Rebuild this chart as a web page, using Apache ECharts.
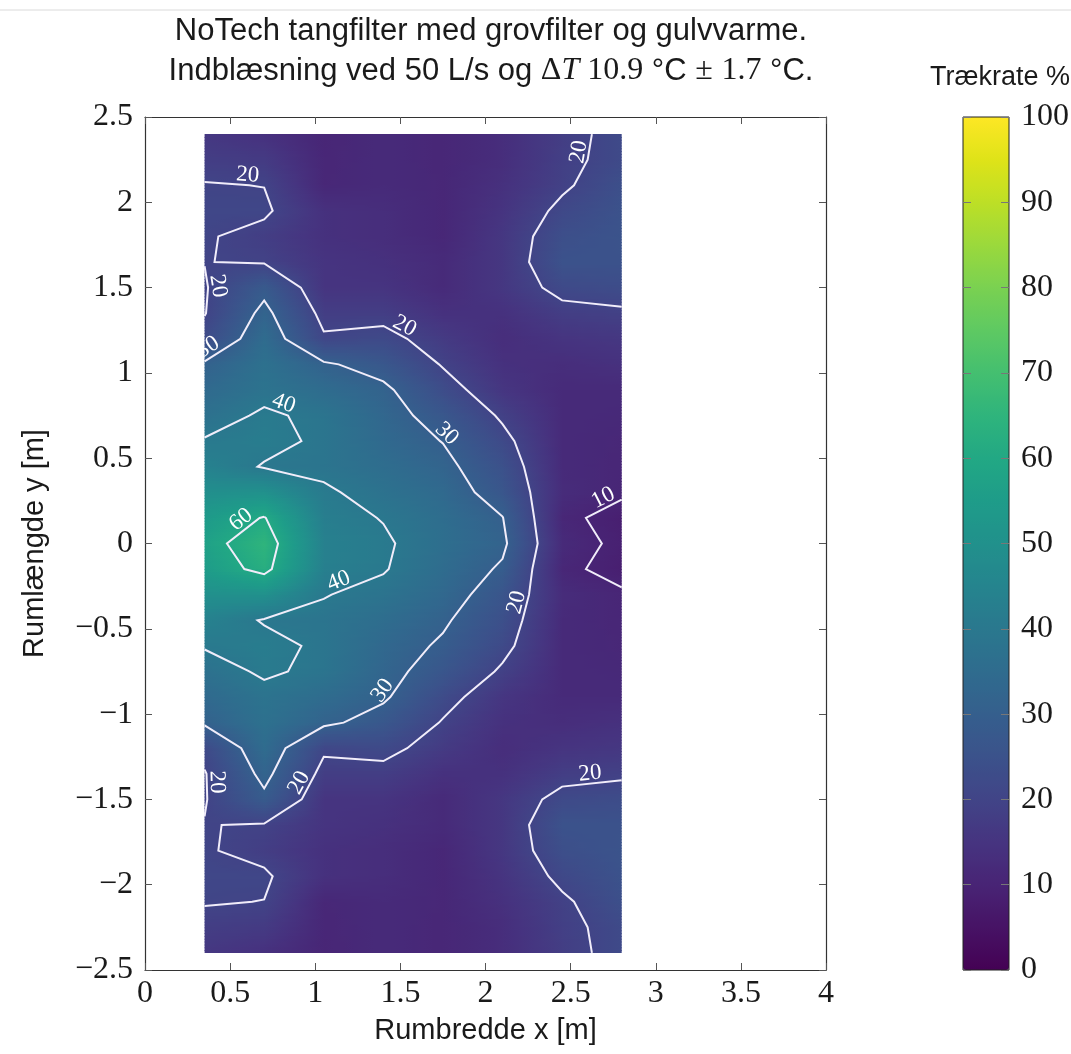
<!DOCTYPE html>
<html>
<head>
<meta charset="utf-8">
<title>NoTech tangfilter - trækrate</title>
<script src="https://cdn.jsdelivr.net/npm/echarts@6/dist/echarts.min.js"></script>
<style>
  html, body { margin: 0; padding: 0; background: #fff; }
  #chart { width: 1071px; height: 1054px; }
</style>
</head>
<body>
<div id="chart"></div>
<script>
/* -------------------------------------------------------------------------- */
/*                 Trækrate (draught rate) i rummet, NoTech                    */
/* -------------------------------------------------------------------------- */

// measurement grid, x across the room, y along it (top row first)
const xPositions = [0.35, 0.7, 1.05, 1.4, 1.75, 2.1, 2.45, 2.8];
const yPositions = [
  2.4, 2.25, 2.1, 1.95, 1.8, 1.65, 1.5, 1.35, 1.2, 1.05, 0.9, 0.75, 0.6, 0.45,
  0.3, 0.15, 0, -0.15, -0.3, -0.45, -0.6, -0.75, -0.9, -1.05, -1.2, -1.35,
  -1.5, -1.65, -1.8, -1.95, -2.1, -2.25, -2.4
];

// draught rate in %, one row per y position
const draughtRate = [
  [16.0, 14.0, 10.5, 12.0, 10.8, 13.0, 18.0, 22.0],
  [18.0, 17.0, 10.8, 12.0, 10.8, 13.0, 18.5, 22.0],
  [20.3, 19.9, 11.0, 12.0, 11.0, 14.0, 19.0, 24.0],
  [21.0, 21.0, 14.0, 13.0, 11.0, 15.0, 21.5, 25.0],
  [20.6, 18.0, 14.0, 13.0, 11.0, 16.0, 23.8, 25.5],
  [20.1, 19.5, 15.0, 14.0, 12.0, 16.0, 25.0, 25.0],
  [19.5, 28.0, 15.0, 15.0, 12.0, 16.0, 22.0, 23.0],
  [19.7, 32.0, 18.0, 18.0, 14.0, 14.0, 18.0, 19.0],
  [22.5, 35.0, 20.8, 22.0, 17.0, 13.0, 15.0, 16.0],
  [31.0, 37.0, 31.0, 27.0, 19.5, 14.0, 13.0, 14.0],
  [34.0, 38.0, 35.0, 31.5, 23.0, 15.5, 12.0, 12.0],
  [37.0, 41.0, 38.5, 33.0, 27.0, 19.0, 12.0, 11.5],
  [40.5, 42.0, 38.8, 34.0, 29.8, 22.0, 12.0, 11.0],
  [44.0, 39.5, 38.5, 35.5, 32.0, 24.5, 12.0, 10.8],
  [49.0, 50.0, 41.0, 37.5, 34.0, 26.5, 12.5, 10.6],
  [54.0, 60.5, 42.5, 39.7, 35.5, 30.2, 11.0, 8.5],
  [57.0, 65.0, 43.5, 41.0, 36.0, 31.5, 12.0, 9.0],
  [55.0, 62.5, 43.0, 40.5, 35.0, 29.0, 11.0, 8.5],
  [49.5, 50.0, 40.3, 38.0, 33.5, 26.0, 12.5, 10.6],
  [44.0, 39.5, 38.5, 35.5, 31.0, 24.0, 12.0, 10.8],
  [40.5, 42.0, 38.8, 33.5, 29.0, 22.0, 12.0, 11.0],
  [37.0, 41.0, 38.5, 32.5, 26.5, 19.0, 12.0, 11.5],
  [34.0, 38.0, 35.0, 31.0, 22.5, 15.5, 12.0, 12.0],
  [31.0, 37.0, 31.5, 27.0, 19.5, 14.0, 13.0, 14.0],
  [22.0, 35.0, 21.0, 22.0, 17.0, 13.0, 15.0, 16.0],
  [19.6, 32.0, 18.0, 18.0, 14.0, 14.0, 18.0, 19.0],
  [19.6, 28.5, 15.0, 15.0, 12.0, 16.0, 22.0, 23.0],
  [20.2, 19.5, 15.0, 14.0, 12.0, 16.0, 25.0, 25.0],
  [20.6, 18.0, 14.0, 13.0, 11.0, 16.0, 23.8, 25.5],
  [21.0, 21.0, 14.0, 13.0, 11.0, 15.0, 21.5, 25.0],
  [20.4, 19.9, 11.0, 12.0, 11.0, 14.0, 19.0, 24.0],
  [18.0, 17.0, 10.8, 12.0, 10.8, 13.0, 18.5, 22.0],
  [16.0, 14.0, 10.5, 12.0, 10.8, 13.0, 18.0, 22.0]
];

const contourLevels = [10, 20, 30, 40, 60];
const colorbarTicks = [0, 10, 20, 30, 40, 50, 60, 70, 80, 90, 100];

// where the contour labels sit (snapped onto the nearest line of that level)
const contourLabelSpots = [
  [20, 0.6, 2.12], [20, 0.4, 1.5], [30, 0.4, 1.1], [20, 1.5, 1.23],
  [40, 0.8, 0.78], [30, 1.75, 0.62], [60, 0.58, 0.12], [10, 2.7, 0.25],
  [20, 2.64, 2.28], [40, 1.15, -0.25], [20, 2.2, -0.35], [30, 1.45, -0.9],
  [20, 0.38, -1.4], [20, 0.9, -1.4], [20, 2.62, -1.4]
];

const VIRIDIS = [
  '#440154', '#471365', '#482475', '#463480', '#414487', '#3b528b', '#355f8d',
  '#2f6c8e', '#2a788e', '#25848e', '#21918c', '#1e9c89', '#22a884', '#2fb47c',
  '#44bf70', '#5ec962', '#7ad151', '#9bd93c', '#bddf26', '#dfe318', '#fde725'
];

const SANS = '"Liberation Sans", Arial, sans-serif';
const SERIF = '"Liberation Serif", "DejaVu Serif", serif';

const hexToRgb = hex => [1, 3, 5].map(i => parseInt(hex.slice(i, i + 2), 16));
const viridisRgb = VIRIDIS.map(hexToRgb);

const viridis = value => {
  const t = Math.min(1, Math.max(0, value / 100)) * (VIRIDIS.length - 1);
  const i = Math.min(VIRIDIS.length - 2, Math.floor(t));
  const f = t - i;
  const a = viridisRgb[i];
  const b = viridisRgb[i + 1];
  const c = a.map((v, k) => Math.round(v + (b[k] - v) * f));
  return `rgb(${c[0]},${c[1]},${c[2]})`;
};

/* ------------------------------ contour lines ----------------------------- */

const nx = xPositions.length;
const ny = yPositions.length;

const contourPolylines = level => {
  const points = {};
  const segments = [];
  const edge = (i1, j1, i2, j2) => {
    const a = j1 * nx + i1;
    const b = j2 * nx + i2;
    const key = a < b ? `${a}|${b}` : `${b}|${a}`;
    if (!points[key]) {
      const v1 = draughtRate[j1][i1];
      const v2 = draughtRate[j2][i2];
      const t = (level - v1) / (v2 - v1);
      points[key] = [
        xPositions[i1] + t * (xPositions[i2] - xPositions[i1]),
        yPositions[j1] + t * (yPositions[j2] - yPositions[j1])
      ];
    }
    return key;
  };

  for (let j = 0; j < ny - 1; j++) {
    for (let i = 0; i < nx - 1; i++) {
      // a top-left, b top-right, c bottom-right, d bottom-left
      const corners = [
        [i, j],
        [i + 1, j],
        [i + 1, j + 1],
        [i, j + 1]
      ];
      const above = corners.map(([ci, cj]) => draughtRate[cj][ci] >= level);
      const crossing = [];
      for (let e = 0; e < 4; e++) {
        const p = corners[e];
        const q = corners[(e + 1) % 4];
        if (above[e] !== above[(e + 1) % 4]) {
          crossing.push({ e, key: edge(p[0], p[1], q[0], q[1]) });
        }
      }
      if (crossing.length === 2) {
        segments.push([crossing[0].key, crossing[1].key]);
      } else if (crossing.length === 4) {
        const centre =
          corners.reduce((s, [ci, cj]) => s + draughtRate[cj][ci], 0) / 4;
        const k = crossing.map(c => c.key); // edges 0:ab 1:bc 2:cd 3:da
        if ((centre >= level) === above[0]) {
          segments.push([k[0], k[1]], [k[2], k[3]]);
        } else {
          segments.push([k[3], k[0]], [k[1], k[2]]);
        }
      }
    }
  }

  const adj = {};
  segments.forEach((s, idx) =>
    s.forEach(k => (adj[k] = adj[k] || []).push(idx))
  );
  const used = segments.map(() => false);
  const walk = (startSeg, startKey) => {
    const keys = [startKey];
    let seg = startSeg;
    let cur = startKey;
    while (seg !== -1 && !used[seg]) {
      used[seg] = true;
      const s = segments[seg];
      cur = s[0] === cur ? s[1] : s[0];
      keys.push(cur);
      const next = adj[cur].find(n => !used[n]);
      seg = next === undefined ? -1 : next;
    }
    return keys.map(k => points[k]);
  };
  const lines = [];
  Object.keys(adj).forEach(k => {
    if (adj[k].length === 1 && !used[adj[k][0]]) lines.push(walk(adj[k][0], k));
  });
  segments.forEach((s, idx) => {
    if (!used[idx]) lines.push(walk(idx, s[0]));
  });
  return lines;
};

const contours = contourLevels.map(level => ({
  level,
  lines: contourPolylines(level)
}));

const labelItems = contourLabelSpots
  .map(([level, hx, hy]) => {
    const c = contours.find(item => item.level === level);
    let best = null;
    c.lines.forEach(line => {
      for (let k = 0; k < line.length - 1; k++) {
        const [x1, y1] = line[k];
        const [x2, y2] = line[k + 1];
        const dx = x2 - x1;
        const dy = y2 - y1;
        const len2 = dx * dx + dy * dy || 1e-9;
        const t = Math.max(0, Math.min(1, ((hx - x1) * dx + (hy - y1) * dy) / len2));
        const px = x1 + t * dx;
        const py = y1 + t * dy;
        const d = (px - hx) ** 2 + (py - hy) ** 2;
        if (!best || d < best.d) best = { d, px, py, dx, dy };
      }
    });
    return best && [best.px, best.py, best.dx, best.dy, level];
  })
  .filter(Boolean);

/* -------------------------------- heat cells ------------------------------ */

const cells = [];
for (let j = 0; j < ny - 1; j++) {
  for (let i = 0; i < nx - 1; i++) {
    cells.push([
      xPositions[i],
      yPositions[j + 1],
      xPositions[i + 1],
      yPositions[j],
      draughtRate[j][i],
      draughtRate[j][i + 1],
      draughtRate[j + 1][i],
      draughtRate[j + 1][i + 1]
    ]);
  }
}

const xMaxData = xPositions[nx - 1];
const yMinData = yPositions[ny - 1];

const renderCell = (params, api) => {
  const x0 = api.value(0);
  const y0 = api.value(1);
  const x1 = api.value(2);
  const y1 = api.value(3);
  const tl = api.value(4);
  const tr = api.value(5);
  const bl = api.value(6);
  const br = api.value(7);
  const pTL = api.coord([x0, y1]);
  const pBR = api.coord([x1, y0]);
  const w = pBR[0] - pTL[0];
  const h = pBR[1] - pTL[1];
  const padW = x1 < xMaxData ? 1 : 0;
  const padH = y0 > yMinData ? 1 : 0;
  const strips = Math.max(2, Math.round(h / 3));
  const children = [];
  for (let s = 0; s < strips; s++) {
    const f = (s + 0.5) / strips;
    const left = tl + (bl - tl) * f;
    const right = tr + (br - tr) * f;
    const stops = [];
    for (let k = 0; k <= 6; k++) {
      const t = k / 6;
      stops.push({ offset: t, color: viridis(left + (right - left) * t) });
    }
    const last = s === strips - 1;
    children.push({
      type: 'rect',
      silent: true,
      shape: {
        x: pTL[0],
        y: pTL[1] + (h * s) / strips,
        width: w + padW,
        height: h / strips + (last ? padH : 1)
      },
      style: { fill: new echarts.graphic.LinearGradient(0, 0, 1, 0, stops) }
    });
  }
  return { type: 'group', children };
};

const renderLabel = (params, api) => {
  const p = api.coord([api.value(0), api.value(1)]);
  const q = api.coord([api.value(0) + api.value(2), api.value(1) + api.value(3)]);
  let a = Math.atan2(-(q[1] - p[1]), q[0] - p[0]);
  if (a > Math.PI / 2) a -= Math.PI;
  if (a < -Math.PI / 2) a += Math.PI;
  const off = 10;
  return {
    type: 'text',
    silent: true,
    x: p[0] - Math.sin(a) * off,
    y: p[1] - Math.cos(a) * off,
    rotation: a,
    style: {
      text: String(api.value(4)),
      fill: '#ffffff',
      font: `23px ${SERIF}`,
      align: 'center',
      verticalAlign: 'middle'
    }
  };
};

/* --------------------------------- options -------------------------------- */

const tickLabelStyle = {
  color: '#1a1a1a',
  fontFamily: SERIF,
  fontSize: 32
};

const frameAxis = {
  axisLine: { show: true, onZero: false, lineStyle: { color: '#333', width: 1.2 } },
  axisTick: { show: true, inside: true, length: 7, lineStyle: { color: '#555' } },
  splitLine: { show: false },
  splitArea: { show: false }
};

const barAxis = {
  type: 'value',
  gridIndex: 1,
  min: colorbarTicks[0],
  max: colorbarTicks[colorbarTicks.length - 1],
  interval: 10,
  z: 7,
  axisLine: { show: false, onZero: false },
  axisTick: { show: true, inside: true, length: 8, lineStyle: { color: '#777' } },
  splitLine: { show: false },
  splitArea: { show: false }
};

const option = {
  animation: false,
  backgroundColor: '#ffffff',
  title: {
    text:
      'NoTech tangfilter med grovfilter og gulvvarme.\n' +
      'Indblæsning ved 50 L/s og {m|Δ}{mi|T}{m| 10.9} °C {m|±} {m|1.7} °C.',
    left: 486,
    top: 6,
    textAlign: 'center',
    textStyle: {
      fontFamily: SANS,
      fontSize: 31,
      fontWeight: 'normal',
      color: '#1a1a1a',
      lineHeight: 40,
      rich: {
        m: { fontFamily: SERIF, fontSize: 32, color: '#1a1a1a', lineHeight: 40 },
        mi: {
          fontFamily: SERIF,
          fontStyle: 'italic',
          fontSize: 32,
          color: '#1a1a1a',
          lineHeight: 40
        }
      }
    }
  },
  graphic: [
    {
      type: 'line',
      silent: true,
      shape: { x1: 0, y1: 10, x2: 1071, y2: 10 },
      style: { stroke: '#dadada', lineWidth: 1 }
    },
    {
      type: 'text',
      silent: true,
      x: 1000,
      y: 78,
      style: {
        text: 'Trækrate %',
        font: `27px ${SANS}`,
        fill: '#1a1a1a',
        align: 'center',
        verticalAlign: 'middle'
      }
    }
  ],
  grid: [
    { left: 145, top: 117, width: 681, height: 853, outerBoundsMode: 'none' },
    {
      left: 963,
      top: 117,
      width: 46,
      height: 853,
      show: true,
      z: 6,
      backgroundColor: 'transparent',
      borderColor: '#222',
      borderWidth: 1,
      outerBoundsMode: 'none'
    }
  ],
  xAxis: [
    {
      type: 'value',
      gridIndex: 0,
      min: 0,
      max: 4,
      interval: 0.5,
      position: 'bottom',
      ...frameAxis,
      axisLabel: { ...tickLabelStyle, margin: 8 },
      name: 'Rumbredde x [m]',
      nameLocation: 'middle',
      nameGap: 46,
      nameTextStyle: { fontFamily: SANS, fontSize: 29, color: '#1a1a1a' }
    },
    {
      type: 'value',
      gridIndex: 0,
      min: 0,
      max: 4,
      interval: 0.5,
      position: 'top',
      ...frameAxis,
      axisLabel: { show: false }
    },
    {
      type: 'value',
      gridIndex: 1,
      min: 0,
      max: 1,
      show: false,
      splitLine: { show: false }
    }
  ],
  yAxis: [
    {
      type: 'value',
      gridIndex: 0,
      min: -2.5,
      max: 2.5,
      interval: 0.5,
      position: 'left',
      ...frameAxis,
      axisLabel: {
        ...tickLabelStyle,
        margin: 12,
        formatter: v => (v < 0 ? '\u2212' + Math.abs(v) : String(v))
      },
      name: 'Rumlængde y [m]',
      nameLocation: 'middle',
      nameGap: 96,
      nameTextStyle: { fontFamily: SANS, fontSize: 29, color: '#1a1a1a' }
    },
    {
      type: 'value',
      gridIndex: 0,
      min: -2.5,
      max: 2.5,
      interval: 0.5,
      position: 'right',
      ...frameAxis,
      axisLabel: { show: false }
    },
    {
      ...barAxis,
      position: 'right',
      axisLabel: { ...tickLabelStyle, margin: 12 }
    },
    {
      ...barAxis,
      position: 'left',
      axisLabel: { show: false }
    }
  ],
  visualMap: {
    type: 'continuous',
    min: 0,
    max: 100,
    calculable: false,
    hoverLink: false,
    seriesIndex: 0,
    dimension: 4,
    inRange: { color: VIRIDIS },
    left: 963,
    top: 117,
    itemWidth: 46,
    itemHeight: 853,
    padding: 0,
    z: 1
  },
  series: [
    {
      type: 'custom',
      name: 'Trækrate',
      coordinateSystem: 'cartesian2d',
      xAxisIndex: 0,
      yAxisIndex: 0,
      silent: true,
      z: 1,
      encode: { x: [0, 2], y: [1, 3] },
      renderItem: renderCell,
      data: cells
    },
    {
      type: 'lines',
      name: 'Konturer',
      coordinateSystem: 'cartesian2d',
      xAxisIndex: 0,
      yAxisIndex: 0,
      polyline: true,
      silent: true,
      z: 3,
      lineStyle: { color: '#f1edfa', width: 2, opacity: 1 },
      data: contours.flatMap(c => c.lines.map(points => ({ coords: points })))
    },
    {
      type: 'custom',
      name: 'Konturetiketter',
      coordinateSystem: 'cartesian2d',
      xAxisIndex: 0,
      yAxisIndex: 0,
      silent: true,
      z: 4,
      encode: { x: 0, y: 1 },
      renderItem: renderLabel,
      data: labelItems
    }
  ]
};

const chart = echarts.init(document.getElementById('chart'));
chart.setOption(option);
</script>
</body>
</html>
